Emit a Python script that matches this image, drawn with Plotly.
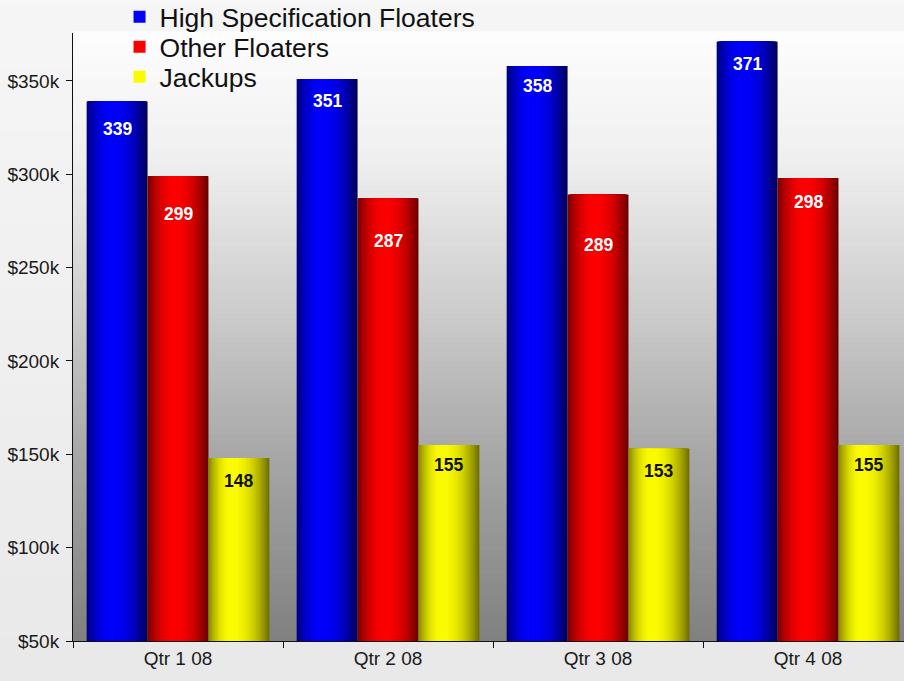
import plotly.graph_objects as go

# ---------------- data ----------------
categories = ["Qtr 1 08", "Qtr 2 08", "Qtr 3 08", "Qtr 4 08"]
series_names = ["High Specification Floaters", "Other Floaters", "Jackups"]
high_spec = [339, 351, 358, 371]
other_floaters = [299, 287, 289, 298]
jackups = [148, 155, 153, 155]
y_tick_values = [50, 100, 150, 200, 250, 300, 350]
y_tick_labels = ["$50k", "$100k", "$150k", "$200k", "$250k", "$300k", "$350k"]

# ---------------- styling ----------------
series_values = [high_spec, other_floaters, jackups]
# (left edge rgb, peak rgb, right edge rgb, peak position)
shading = [
    ((0, 0, 125), (0, 0, 255), (0, 0, 85), 0.42),
    ((120, 0, 0), (255, 0, 0), (105, 0, 0), 0.45),
    ((135, 135, 0), (255, 255, 0), (110, 110, 0), 0.38),
]
label_colors = ["white", "white", "#111111"]
label_drop = [[27, 22, 20, 22], [38, 42, 50, 24], [23, 20, 22, 20]]
legend_ids = ["legend", "legend2", "legend3"]
legend_centers_px = [17, 47, 77]

BAR_W = 0.29
GROUP_START = -0.435
LEVELS = 30
FONT = "Liberation Sans, Arial, sans-serif"
PLOT_TOP, PLOT_BOTTOM = 33, 641


def mix(a, b, w):
    return "rgb({},{},{})".format(*[int(round(x + (y - x) * w)) for x, y in zip(a, b)])


fig = go.Figure()
for s, (name, vals) in enumerate(zip(series_names, series_values)):
    left, peak, right, t0 = shading[s]
    base = GROUP_START + s * BAR_W
    for j in range(LEVELS):
        w = j / LEVELS
        dist = (1 - w) ** 0.5
        # left half (nested, darker outside)
        tl = t0 - t0 * dist
        fig.add_trace(go.Bar(
            x=categories, y=vals,
            offset=base + tl * BAR_W, width=(t0 - tl) * BAR_W + 0.001,
            marker=dict(color=mix(left, peak, w), line=dict(width=0)),
            name=name, legend=legend_ids[s], legendgroup=name,
            showlegend=(j == LEVELS - 1), hoverinfo="skip",
        ))
        # right half
        tr = t0 + (1 - t0) * dist
        fig.add_trace(go.Bar(
            x=categories, y=vals,
            offset=base + t0 * BAR_W, width=(tr - t0) * BAR_W,
            marker=dict(color=mix(right, peak, w), line=dict(width=0)),
            name=name, legend=legend_ids[s], legendgroup=name,
            showlegend=False, hoverinfo="skip",
        ))

# value labels
for s, vals in enumerate(series_values):
    for i, v in enumerate(vals):
        fig.add_annotation(
            x=i + GROUP_START + (s + 0.5) * BAR_W, y=v, xref="x", yref="y",
            text="<b>%d</b>" % v, showarrow=False, yshift=-label_drop[s][i],
            font=dict(family=FONT, size=17.5, color=label_colors[s]),
        )

# background gradients
shapes = []
NB = 24
for k in range(NB):
    g = int(round(246 - 14 * (k / (NB - 1))))
    shapes.append(dict(type="rect", xref="paper", yref="paper",
                       x0=-0.1, x1=1.1,
                       y0=1.1 - (k + 1) * (1.25 / NB) - 0.002,
                       y1=1.1 - k * (1.25 / NB),
                       fillcolor="rgb(%d,%d,%d)" % (g, g, g), line=dict(width=0), layer="below"))

stops = [(0.0, 128), (0.3, 166), (0.55, 205), (0.8, 240), (1.0, 253)]


def bg(h):
    for (h0, g0), (h1, g1) in zip(stops[:-1], stops[1:]):
        if h0 <= h <= h1:
            return g0 + (g1 - g0) * (h - h0) / (h1 - h0)
    return stops[-1][1]


NP = 100
for k in range(NP):
    h = (k + 0.5) / NP
    g = int(round(bg(h)))
    shapes.append(dict(type="rect", xref="x domain", yref="y domain",
                       x0=0, x1=1, y0=k / NP, y1=(k + 1) / NP + 0.003,
                       fillcolor="rgb(%d,%d,%d)" % (g, g, g), line=dict(width=0), layer="below"))

legend_style = dict(x=0.056, xanchor="left", yanchor="middle",
                    bgcolor="rgba(0,0,0,0)", font=dict(size=26.5, color="#111111"),
                    itemclick=False, itemdoubleclick=False)
legends = {}
for lid, cy in zip(legend_ids, legend_centers_px):
    legends[lid] = dict(legend_style, y=(PLOT_BOTTOM - cy) / (PLOT_BOTTOM - PLOT_TOP))

fig.update_layout(
    width=904, height=681,
    margin=dict(l=73, r=0, t=33, b=40, autoexpand=False),
    barmode="overlay",
    paper_bgcolor="#ebebeb",
    plot_bgcolor="rgba(0,0,0,0)",
    shapes=shapes,
    font=dict(family=FONT, size=19, color="#1a1a1a"),
    xaxis=dict(
        type="category", range=[-0.5, 3.457],
        showline=True, linecolor="#111111", linewidth=1,
        ticks="outside", tickson="boundaries", ticklen=6, tickcolor="#111111",
        showgrid=False, zeroline=False,
        tickfont=dict(size=19, color="#1a1a1a"),
    ),
    yaxis=dict(
        range=[50, 375.7], tickmode="array",
        tickvals=y_tick_values, ticktext=y_tick_labels,
        showline=True, linecolor="#111111", linewidth=1,
        ticks="outside", ticklen=6, tickcolor="#111111",
        showgrid=False, zeroline=False,
        tickfont=dict(size=19, color="#1a1a1a"),
        ticklabelstandoff=3,
    ),
    **legends,
)

fig.write_html("out.html")
